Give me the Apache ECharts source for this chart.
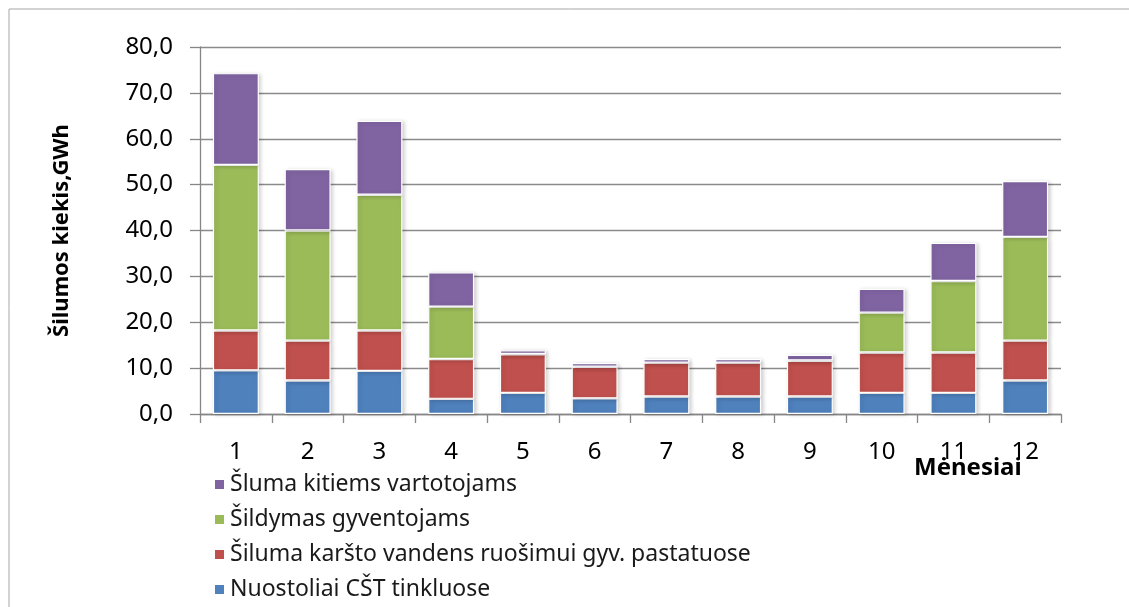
<!DOCTYPE html>
<html>
<head>
<meta charset="utf-8">
<script src="https://cdn.jsdelivr.net/npm/echarts@6/dist/echarts.min.js"></script>
<style>
  html, body { margin: 0; padding: 0; background: #fff; }
  #chart { width: 1129px; height: 607px; }
</style>
</head>
<body>
<div id="chart"></div>
<script>
// months
const categories = ["1", "2", "3", "4", "5", "6", "7", "8", "9", "10", "11", "12"];
// series values, GWh
const nuostoliai = [9.5, 7.3, 9.4, 3.3, 4.6, 3.4, 3.8, 3.8, 3.8, 4.6, 4.6, 7.3];
const karstasVanduo = [8.7, 8.7, 8.8, 8.7, 8.4, 6.9, 7.4, 7.4, 7.8, 8.8, 8.8, 8.7];
const sildymas = [36.1, 24.0, 29.6, 11.4, 0.1, 0.0, 0.0, 0.0, 0.1, 8.7, 15.6, 22.6];
const kitiems = [20.0, 13.4, 16.1, 7.5, 0.8, 0.8, 0.8, 0.8, 1.2, 5.2, 8.3, 12.2];
const seriesNames = [
  "Nuostoliai CŠT tinkluose",
  "Šiluma karšto vandens ruošimui gyv. pastatuose",
  "Šildymas gyventojams",
  "Šluma kitiems vartotojams",
];
const colors = ["#4F81BD", "#C0504D", "#9BBB59", "#8064A2"];

const font = "'Noto Sans', 'Open Sans', sans-serif";
const chart = echarts.init(document.getElementById("chart"));

let allValues = [nuostoliai, karstasVanduo, sildymas, kitiems];
let series = allValues.map((vals, i) => {
  return {
    name: seriesNames[i],
    type: "bar",
    stack: "total",
    barWidth: 46,
    data: vals,
    itemStyle: {
      color: colors[i],
      borderColor: "#ffffff",
      borderWidth: 1.2,
      shadowColor: "rgba(0,0,0,0.18)",
      shadowBlur: 4,
      shadowOffsetX: 2,
      shadowOffsetY: 1,
    },
  };
});

let option = {
  animation: false,
  grid: { left: 200, right: 68, top: 47, bottom: 193 },
  legend: {
    orient: "vertical",
    left: 208,
    top: 468,
    data: seriesNames.slice().reverse(),
    icon: "rect",
    itemWidth: 11,
    itemHeight: 11,
    itemGap: 12,
    itemTextGap: 10,
    textStyle: { fontFamily: font, fontSize: 23, color: "#1a1a1a", lineHeight: 22 },
  },
  xAxis: {
    type: "category",
    data: categories,
    axisLine: { lineStyle: { color: "#868686", width: 1.3 } },
    axisTick: { show: true, length: 9, lineStyle: { color: "#868686", width: 1.3 } },
    axisLabel: { fontFamily: font, fontSize: 24, color: "#000", margin: 26 },
  },
  yAxis: {
    type: "value",
    min: 0,
    max: 80,
    interval: 10,
    name: "Šilumos kiekis,GWh",
    nameLocation: "middle",
    nameRotate: 90,
    nameGap: 127,
    nameTextStyle: { fontFamily: font, fontSize: 22, fontWeight: "bold", color: "#000" },
    axisLine: { show: true, lineStyle: { color: "#868686", width: 1.3 } },
    axisTick: { show: true, length: 10, lineStyle: { color: "#868686", width: 1.3 } },
    axisLabel: {
      fontFamily: font,
      fontSize: 24,
      color: "#000",
      margin: 27,
      formatter: (v) => v.toFixed(1).replace(".", ","),
    },
    splitLine: { lineStyle: { color: "#8a8a8a", width: 1.3 } },
  },
  graphic: [
    {
      type: "rect",
      shape: { x: 9, y: 9, width: 1140, height: 620 },
      style: { fill: "none", stroke: "#a6a6a6", lineWidth: 1 },
      silent: true,
    },
    {
      type: "text",
      left: 914,
      top: 456,
      style: {
        text: "Mėnesiai",
        fontFamily: font,
        fontSize: 24,
        fontWeight: "bold",
        fill: "#000",
      },
    },
  ],
  series: series,
};

chart.setOption(option);
</script>
</body>
</html>
